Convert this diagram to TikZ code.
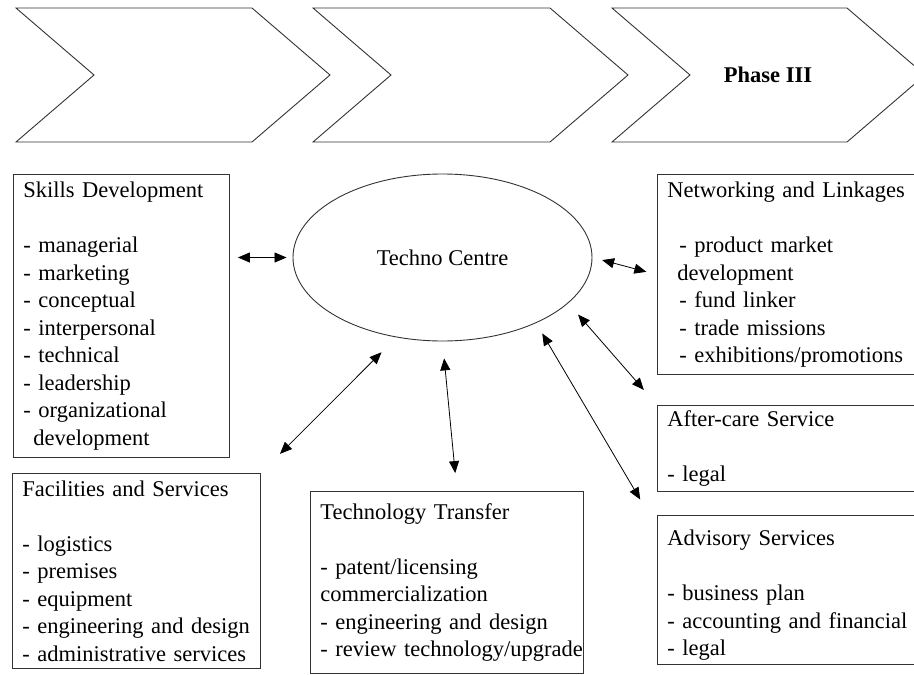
\documentclass[tikz,border=0pt]{standalone}
\usepackage{fontspec}
\setmainfont{Liberation Serif}
\usepackage{tikz}
\usetikzlibrary{arrows.meta,shapes.geometric}
\newcommand{\boxfont}{\fontsize{22.5}{27.5}\selectfont}

\begin{document}
\begin{tikzpicture}[x=1pt, y=-1pt,
  panel/.style={draw=black!80, line width=0.9pt, anchor=north west, align=left, inner xsep=10pt, inner ysep=7.5pt, font=\boxfont},
  link/.style={{Triangle[length=12pt,width=10pt]}-{Triangle[length=12pt,width=10pt]}, line width=0.8pt}]
\useasboundingbox (0,0) rectangle (914,675);
\clip (0,0) rectangle (914,675);

%Phase chevrons
\foreach \xa/\xb in {16/252, 313/550, 612/847}
  \draw[black!80, line width=0.9pt] (\xa,8) -- (\xb,8) -- ++(78,67) -- (\xb,142) -- (\xa,142) -- ++(78,-67) -- cycle;
\node[font=\boxfont\bfseries] (phase3) at (768,75) {Phase III};

%Techno Centre
\node[draw=black!80, line width=0.9pt, ellipse, minimum width=299pt, minimum height=167pt, inner sep=0pt, font=\boxfont] (centre) at (442.5,257.5) {Techno Centre};

%Service boxes
\node[panel, text width=196pt] (skills) at (13,174) {Skills Development\\[27.5pt]- managerial\\- marketing\\- conceptual\\- interpersonal\\- technical\\- leadership\\- organizational\\\hspace*{10pt}development};
\node[panel, text width=248pt] (networking) at (657,174) {Networking and Linkages\\[27.5pt]\hspace*{12pt}- product market\\\hspace*{10pt}development\\\hspace*{12pt}- fund linker\\\hspace*{12pt}- trade missions\\\hspace*{12pt}- exhibitions/promotions};
\node[panel, text width=248pt, inner ysep=5pt] (aftercare) at (657,405) {After-care Service\\[27.5pt]- legal};
\node[panel, text width=248pt, inner ysep=3.5pt] (advisory) at (657,515) {\rule{0pt}{27pt}Advisory Services\\[27.5pt]- business plan\\- accounting and financial\\- legal};
\node[panel, text width=228pt, inner ysep=7pt] (facilities) at (12,473) {Facilities and Services\\[27.5pt]- logistics\\- premises\\- equipment\\- engineering and design\\- administrative services};
\node[panel, text width=253pt, inner ysep=12pt] (techtransfer) at (310,491) {Technology Transfer\\[27.5pt]- patent/licensing\\commercialization\\- engineering and design\\\mbox{- review technology/upgrade}};

%Arrows
\draw[link, shorten <=8pt, shorten >=6pt] (skills.east |- centre.west) -- (centre.west);
\draw[link, shorten <=10pt, shorten >=11pt] (centre.east) -- (networking.west);
\draw[link, shorten <=15pt, shorten >=20pt] (centre.-20) -- (aftercare.north west);
\draw[link, shorten <=12pt, shorten >=33pt] (centre.-35) -- ([yshift=-13pt]advisory.north west);
\draw[link, shorten <=17pt, shorten >=18pt] (centre.south) -- ([xshift=10pt]techtransfer.north);
\draw[link, shorten <=21pt, shorten >=27pt] (centre.-120) -- (facilities.north east);

\end{tikzpicture}
\end{document}
